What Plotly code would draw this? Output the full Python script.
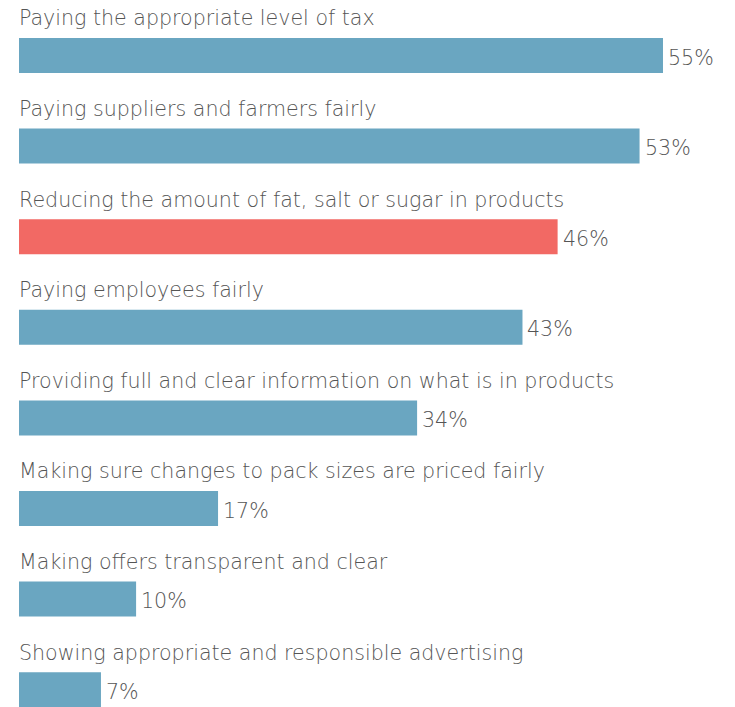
import plotly.graph_objects as go

categories = [
    "Paying the appropriate level of tax",
    "Paying suppliers and farmers fairly",
    "Reducing the amount of fat, salt or sugar in products",
    "Paying employees fairly",
    "Providing full and clear information on what is in products",
    "Making sure changes to pack sizes are priced fairly",
    "Making offers transparent and clear",
    "Showing appropriate and responsible advertising",
]
values = [55, 53, 46, 43, 34, 17, 10, 7]
highlight = [False, False, True, False, False, False, False, False]

BLUE = "#6aa6c1"
RED = "#f26964"
TEXT = "#555555"
FONT = "DejaVu Sans"

ypos = list(range(len(categories)))
colors = [RED if h else BLUE for h in highlight]

fig = go.Figure()
fig.add_trace(go.Bar(
    x=values, y=ypos, orientation="h",
    marker=dict(color=colors, line=dict(width=0)),
    width=0.386,
    hoverinfo="skip",
))

for i, c in enumerate(categories):
    fig.add_annotation(
        x=0, y=i - 0.41, xref="x", yref="y",
        text=c, showarrow=False, xanchor="left", yanchor="middle",
        xshift=-2,
        font=dict(family=FONT, size=20.6, color=TEXT, weight=200),
    )
    fig.add_annotation(
        x=values[i], y=i, xref="x", yref="y",
        text=f"{values[i]}%", showarrow=False, xanchor="left", yanchor="middle",
        xshift=3, yshift=-2,
        font=dict(family=FONT, size=20.6, color=TEXT, weight=200),
    )

fig.update_layout(
    width=727, height=699,
    margin=dict(l=11, r=0, t=0, b=0),
    paper_bgcolor="white", plot_bgcolor="white",
    showlegend=False,
    xaxis=dict(range=[0, 61.15], visible=False, fixedrange=True),
    yaxis=dict(range=[7.191, -0.5243], visible=False, fixedrange=True),
)

fig.write_html("out.html")
